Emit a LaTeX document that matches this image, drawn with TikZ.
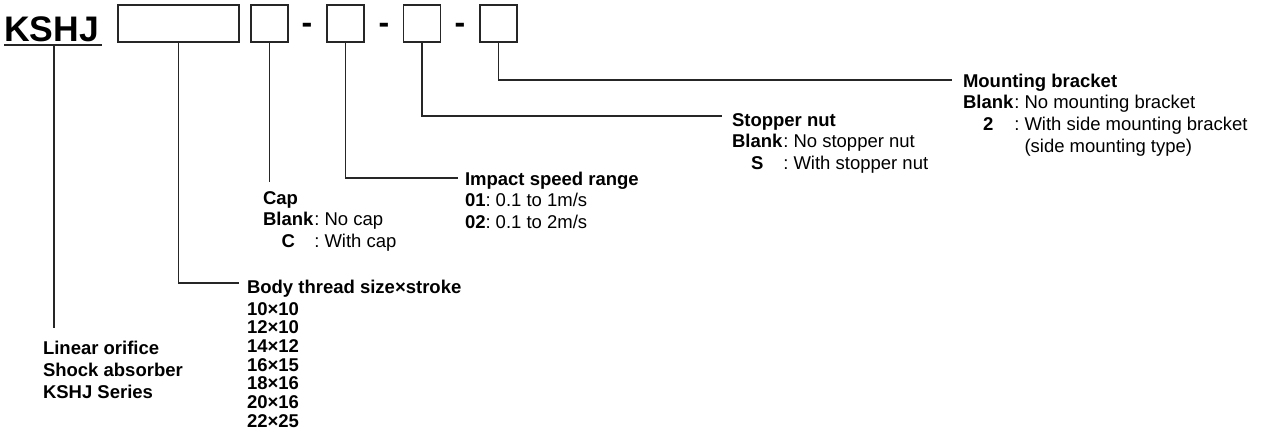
\documentclass[tikz,border=0pt]{standalone}
\usepackage{fontspec}
\setmainfont{Liberation Sans}
\newcommand{\colsep}{:\hspace{5pt}}
\tikzset{
  box/.style={draw=black!85, line width=1.1pt, inner sep=0pt, outer sep=0pt},
  conn/.style={draw=black!85, line width=1.1pt},
  lbl/.style={anchor=base west, inner sep=0pt, outer sep=0pt, font=\fontsize{18.5}{21.8}\selectfont},
  hyph/.style={anchor=base, inner sep=0pt, font=\fontsize{32}{34}\selectfont\bfseries},
}
\begin{document}
\begin{tikzpicture}[x=1pt,y=-1pt]
\useasboundingbox (0,0) rectangle (1263,434);
% title
\node[anchor=base west, inner sep=0pt, font=\fontsize{35.5}{37}\selectfont\bfseries] (title) at (4,41) {KSHJ};
\draw[conn] (4,45) -- (102,45);
% boxes
\node[box, minimum width=121pt, minimum height=37pt] (b1) at (178.5,23.5) {};
\node[box, minimum width=37pt, minimum height=37pt] (b2) at (269.5,23.5) {};
\node[box, minimum width=37pt, minimum height=37pt] (b3) at (345.5,23.5) {};
\node[box, minimum width=37pt, minimum height=37pt] (b4) at (422,23.5) {};
\node[box, minimum width=37pt, minimum height=37pt] (b5) at (498.5,23.5) {};
% dashes
\node[hyph] (h1) at (307,33) {-};
\node[hyph] (h2) at (384,33) {-};
\node[hyph] (h3) at (460,33) {-};
% labels
\node[lbl] (mount) at (963,87) {\begin{tabular}[t]{@{}c@{}l@{}}
\multicolumn{2}{@{}l@{}}{\bfseries Mounting bracket}\\
\bfseries Blank & \hspace{1pt}\colsep No mounting bracket\\
\bfseries 2 & \hspace{1pt}\colsep With side mounting bracket\\
 & \hspace{1pt}\phantom{\colsep}(side mounting type)
\end{tabular}};
\node[lbl] (stop) at (732,126) {\begin{tabular}[t]{@{}c@{}l@{}}
\multicolumn{2}{@{}l@{}}{\bfseries Stopper nut}\\
\bfseries Blank & \hspace{1pt}\colsep No stopper nut\\
\bfseries S & \hspace{1pt}\colsep With stopper nut
\end{tabular}};
\node[lbl] (speed) at (465,185) {\begin{tabular}[t]{@{}l@{}l@{}}
\multicolumn{2}{@{}l@{}}{\bfseries Impact speed range}\\
\bfseries 01 & \colsep 0.1 to 1m/s\\
\bfseries 02 & \colsep 0.1 to 2m/s
\end{tabular}};
\node[lbl] (cap) at (263,204) {\begin{tabular}[t]{@{}c@{}l@{}}
\multicolumn{2}{@{}l@{}}{\bfseries Cap}\\
\bfseries Blank & \hspace{1pt}\colsep No cap\\
\bfseries C & \hspace{1pt}\colsep With cap
\end{tabular}};
\node[lbl, font=\fontsize{18.5}{18.7}\selectfont\bfseries] (body) at (247,293) {\begin{tabular}[t]{@{}l@{}}
Body thread size×stroke\\[3.3pt]
10×10\\ 12×10\\ 14×12\\ 16×15\\ 18×16\\ 20×16\\ 22×25
\end{tabular}};
\node[lbl, font=\fontsize{18.5}{22}\selectfont\bfseries] (series) at (43,354) {\begin{tabular}[t]{@{}l@{}}
Linear orifice\\ Shock absorber\\ KSHJ Series
\end{tabular}};
% connector ends
\coordinate (e0s) at (54,45);
\coordinate (e0) at (54,328);
\coordinate (e1) at (239,283);
\coordinate (e2) at (269.5,182);
\coordinate (e3) at (458,178);
\coordinate (e4) at (722,116);
\coordinate (e5) at (952,80);
% connectors
\draw[conn] (e0s) -- (e0);
\draw[conn] (b1.south) |- (e1);
\draw[conn] (b2.south) -- (e2);
\draw[conn] (b3.south) |- (e3);
\draw[conn] (b4.south) |- (e4);
\draw[conn] (b5.south) |- (e5);
\end{tikzpicture}
\end{document}
